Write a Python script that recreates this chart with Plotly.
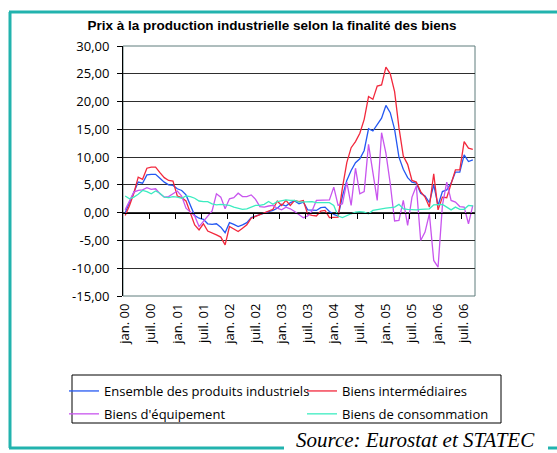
import plotly.graph_objects as go

# ---------------- data ----------------
month_names = ["jan.", "févr.", "mars", "avr.", "mai", "juin",
               "juil.", "août", "sept.", "oct.", "nov.", "déc."]
categories = [f"{m} {y:02d}" for y in range(0, 7) for m in month_names][:81]

tick_labels = ["jan. 00", "juil. 00", "jan. 01", "juil. 01", "jan. 02", "juil. 02",
               "jan. 03", "juil. 03", "jan. 04", "juil. 04", "jan. 05", "juil. 05",
               "jan. 06", "juil. 06"]

y_ticks = [-15, -10, -5, 0, 5, 10, 15, 20, 25, 30]
y_tick_text = ["-15,00", "-10,00", "-5,00", "0,00", "5,00", "10,00",
               "15,00", "20,00", "25,00", "30,00"]

ensemble = [0.0, 1.8, 3.5, 5.5, 5.3, 6.8, 6.9, 6.9, 6.2, 5.5,
            5.0, 4.9, 4.3, 4.0, 3.2, 1.4, -0.5, -1.0, -1.2, -2.0,
            -2.1, -2.0, -2.6, -3.6, -1.8, -2.1, -2.5, -2.2, -1.8, -0.9,
            -0.6, -0.3, 0.0, 0.2, 0.4, 0.8, 1.5, 1.2, 1.8, 2.1,
            1.6, 1.9, 0.5, 0.4, 0.4, 0.9, 1.0, 0.2, -0.3, -0.6,
            3.0, 5.8, 7.6, 9.0, 9.7, 11.2, 15.1, 14.7, 15.8, 17.0,
            19.3, 18.0, 15.0, 10.0, 7.8, 6.3, 5.5, 5.3, 3.5, 3.0,
            1.8, 5.0, 1.3, 3.8, 4.1, 5.3, 7.3, 7.3, 10.4, 9.2,
            9.5]

intermediaires = [-0.5, 1.3, 3.5, 6.4, 6.0, 8.0, 8.2, 8.2, 7.2, 6.3,
                  5.8, 5.7, 3.0, 2.7, 2.1, 0.0, -2.2, -3.1, -2.0, -3.3,
                  -3.6, -4.0, -4.4, -5.8, -2.5, -2.9, -3.4, -2.8, -2.2, -1.0,
                  -0.7, -0.4, -0.1, 0.3, 0.6, 2.1, 1.3, 2.2, 1.3, 2.2,
                  2.0, 2.2, -0.3, -0.5, -0.6, 0.3, 0.4, -0.9, -0.8, -0.8,
                  4.5, 9.0, 11.7, 12.8, 14.3, 16.8, 20.9, 20.4, 22.8, 23.0,
                  26.2, 25.0, 21.8, 15.3, 10.2, 8.7, 5.8, 5.5, 3.8, 2.8,
                  1.0, 7.0, 0.5, 2.8, 2.7, 5.2, 7.7, 7.7, 12.8, 11.6,
                  11.4]

equipement = [0.5, 2.0, 3.7, 4.0, 4.1, 4.5, 4.2, 4.3, 3.4, 2.8,
              2.9, 3.4, 3.9, 3.0, 0.8, 0.1, -0.6, -2.5, -1.5, -0.6,
              0.3, 3.4, 2.8, 0.7, 2.5, 2.7, 3.5, 2.9, 2.9, 3.2,
              2.4, 1.1, 1.0, 1.2, 1.3, 0.8, 0.5, 1.0, 0.7, 0.2,
              -0.3, -0.9, -0.6, 0.3, 2.2, 2.2, 2.2, 2.3, 4.6, 1.3,
              1.6, 5.5, 1.3, 8.0, 3.4, 3.8, 12.3, 7.0, 2.2, 14.4,
              10.7, 5.2, -1.5, -1.4, 2.2, -2.3, 2.8, 4.8, -5.0, -3.5,
              -0.2, -8.6, -9.8, 1.3, 5.5, 2.2, 1.9, 1.1, 1.0, -2.0,
              1.3]

consommation = [3.0, 2.5, 2.8, 3.3, 4.0, 3.8, 3.4, 3.9, 3.5, 2.8,
                2.7, 2.9, 2.8, 2.6, 3.0, 2.9, 2.6, 2.1, 2.0, 2.0,
                1.6, 1.4, 1.5, 1.4, 1.3, 1.0, 0.8, 0.6, 0.7, 1.0,
                1.3, 1.3, 1.5, 2.0, 1.5, 2.0, 2.2, 2.3, 2.2, 2.2,
                1.9, 1.9, 1.9, 2.0, 1.8, 1.8, 1.9, 1.8, 1.3, -0.6,
                -0.9, -0.5, -0.2, 0.1, 0.2, 0.1, -0.2, 0.4, 0.6, 0.7,
                0.8, 0.9, 1.0, 1.5, 0.7, 0.6, 0.5, 0.5, 0.6, 0.6,
                0.7, 1.4, 1.5, 1.5, 1.0, 0.5, 1.0, 0.6, 0.6, 1.3,
                1.2]

series_names = ["Ensemble des produits industriels", "Biens intermédiaires",
                "Biens d'équipement", "Biens de consommation"]
series_values = [ensemble, intermediaires, equipement, consommation]
series_colors = ["#2458f2", "#f2283c", "#c855ee", "#3cecc0"]
series_legend = ["legend", "legend2", "legend", "legend2"]

# ---------------- layout geometry (pixels) ----------------
W_FIG, H_FIG = 557, 453
L, R, T, B = 123, 475, 46, 296
PW, PH = R - L, B - T


def px(x):
    return (x - L) / PW


def py(y):
    return (B - y) / PH


FONT = "Open Sans, Noto Sans, sans-serif"
TEAL = "#22b3ae"

fig = go.Figure()
for name, vals, col, lg in zip(series_names, series_values, series_colors, series_legend):
    fig.add_trace(go.Scatter(
        x=categories, y=vals, mode="lines", name=name,
        line=dict(color=col, width=1.3), legend=lg, legendgroup=name,
    ))

# invisible trace to carry the zero-line axis with its tick marks
fig.add_trace(go.Scatter(x=[None], y=[None], xaxis="x2", showlegend=False,
                         hoverinfo="skip"))

n = len(categories)
zero_pos = (0 - y_ticks[0]) / (y_ticks[-1] - y_ticks[0])

fig.update_layout(
    width=W_FIG, height=H_FIG,
    margin=dict(l=L, r=W_FIG - R, t=T, b=H_FIG - B, autoexpand=False),
    paper_bgcolor="white", plot_bgcolor="white",
    font=dict(family=FONT, size=13, color="black"),
    title=dict(text="<b>Prix à la production industrielle selon la finalité des biens</b>",
               x=272 / W_FIG, xanchor="center", y=1 - 25 / H_FIG, yanchor="middle",
               font=dict(family="Liberation Sans Narrow, Arial Narrow, sans-serif",
                         size=13.5, color="black")),
    showlegend=True,
    xaxis=dict(type="category", range=[-0.5, n - 0.5], tickmode="array",
               tickvals=tick_labels, ticktext=tick_labels, tickangle=-90,
               ticks="", showgrid=False, showline=False, zeroline=False,
               ticklabelstandoff=4, tickfont=dict(size=13)),
    xaxis2=dict(overlaying="x", anchor="free", position=zero_pos,
                range=[-0.5, n - 0.5], tickmode="array",
                tickvals=[5.5 + 6 * k for k in range(13)],
                ticks="outside", ticklen=5, tickcolor="black", tickwidth=1,
                showline=True, linecolor="black", linewidth=1,
                showticklabels=False, showgrid=False, zeroline=False),
    yaxis=dict(range=[y_ticks[0], y_ticks[-1]], tickmode="array",
               tickvals=y_ticks, ticktext=y_tick_text,
               showgrid=True, gridcolor="#2e2e2e", gridwidth=1,
               showline=True, linecolor="black", linewidth=1,
               ticks="outside", ticklen=5, tickcolor="black",
               ticklabelstandoff=5,
               zeroline=False, tickfont=dict(size=13)),
    legend=dict(x=px(64), y=py(376), xanchor="left", yanchor="top",
                orientation="v", bgcolor="rgba(0,0,0,0)", borderwidth=0,
                font=dict(size=13), tracegroupgap=3, itemclick=False),
    legend2=dict(x=px(302), y=py(376), xanchor="left", yanchor="top",
                 orientation="v", bgcolor="rgba(0,0,0,0)", borderwidth=0,
                 font=dict(size=13), tracegroupgap=3, itemclick=False),
    shapes=[
        # plot area frame
        dict(type="rect", xref="paper", yref="paper", x0=0, x1=1, y0=0, y1=1,
             line=dict(color="#5f7c7c", width=1), layer="below"),
        # legend box
        dict(type="rect", xref="paper", yref="paper", x0=px(72), x1=px(501),
             y0=py(423), y1=py(375), line=dict(color="black", width=1)),
        # teal page frame
        dict(type="line", xref="paper", yref="paper", x0=px(10), x1=px(10),
             y0=py(12), y1=py(448), line=dict(color=TEAL, width=3)),
        dict(type="line", xref="paper", yref="paper", x0=px(9), x1=px(557),
             y0=py(12), y1=py(12), line=dict(color=TEAL, width=3)),
        dict(type="line", xref="paper", yref="paper", x0=px(9), x1=px(284),
             y0=py(448), y1=py(448), line=dict(color=TEAL, width=3)),
        dict(type="line", xref="paper", yref="paper", x0=px(548), x1=px(557),
             y0=py(448), y1=py(448), line=dict(color=TEAL, width=3)),
    ],
    annotations=[
        dict(text="<i>Source: Eurostat et STATEC</i>", xref="paper", yref="paper",
             x=px(294), y=py(440), xanchor="left", yanchor="middle", showarrow=False,
             font=dict(family="Liberation Serif, Times New Roman, serif", size=21,
                       color="black")),
    ],
)

fig.write_html("out.html",
               config={"displayModeBar": False},
               post_script="document.body.style.margin='0';document.body.style.overflow='hidden';")
